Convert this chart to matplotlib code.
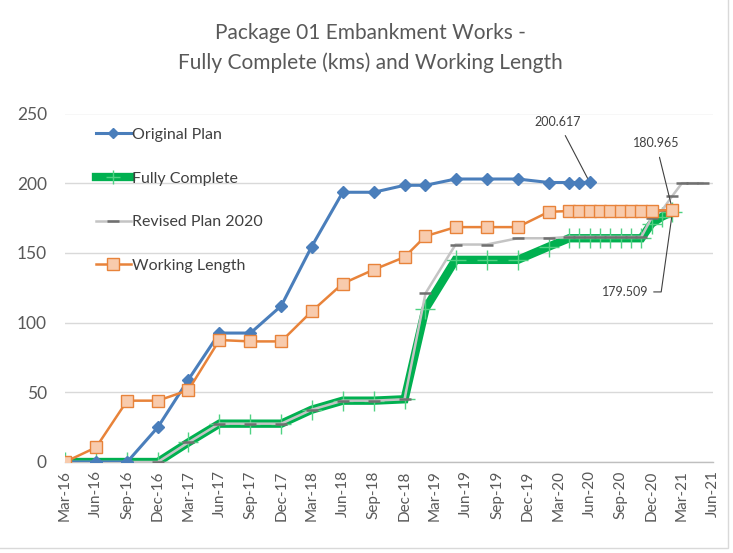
import matplotlib
matplotlib.use("Agg")
import matplotlib.pyplot as plt
import matplotlib.dates as mdates
from matplotlib.lines import Line2D
from matplotlib.patches import Rectangle
import pandas as pd

plt.rcParams['font.family'] = ['Lato', 'DejaVu Sans']

# ---------------- data ----------------
quarters_early = ['2016-03', '2016-06', '2016-09', '2016-12', '2017-03', '2017-06',
                  '2017-09', '2017-12', '2018-03', '2018-06', '2018-09', '2018-12']

plan_dates = quarters_early + ['2019-02', '2019-05', '2019-08', '2019-11', '2020-02',
                               '2020-04', '2020-05', '2020-06']
plan_vals = [0, 0, 0, 25, 59, 92.5, 92.5, 112, 154.5, 193.5, 193.5, 198.5,
             198.5, 203, 203, 203, 200.5, 200.5, 200.5, 200.617]

work_dates = quarters_early + ['2019-02', '2019-05', '2019-08', '2019-11', '2020-02',
                               '2020-04', '2020-05', '2020-06', '2020-07', '2020-08',
                               '2020-09', '2020-10', '2020-11', '2020-12', '2021-02']
work_vals = [0, 10.5, 44, 44, 51.5, 87.5, 86.5, 86.5, 108, 128, 138, 147,
             162, 168.5, 168.5, 168.5, 179.5,
             180, 180, 180, 180, 180, 180, 180, 180, 180, 180.965]

complete_dates = quarters_early + ['2019-02', '2019-05', '2019-08', '2019-11', '2020-02',
                                   '2020-04', '2020-05', '2020-06', '2020-07', '2020-08',
                                   '2020-09', '2020-10', '2020-11', '2020-12', '2021-01',
                                   '2021-02']
complete_vals = [0, 0, 0, 0, 14, 27.5, 27.5, 27.5, 37.5, 44, 44, 45,
                 110, 145, 145, 145, 154.5,
                 160.5, 160.5, 160.5, 160.5, 160.5, 160.5, 160.5, 160.5,
                 171, 176, 179.509]

revised_dates = quarters_early + ['2019-02', '2019-05', '2019-08', '2019-11', '2020-02',
                                  '2020-04', '2020-05', '2020-06', '2020-07', '2020-08',
                                  '2020-09', '2020-10', '2020-11', '2020-12', '2021-01',
                                  '2021-02', '2021-03', '2021-04', '2021-05']
revised_vals = [0, 0, 0, 0, 14, 27.5, 27.5, 27.5, 37.5, 44, 44, 45,
                121, 156, 156, 160.5, 160.5,
                161.5, 161.5, 161.5, 161.5, 161.5, 161.5, 161.5, 161.5,
                175, 180.5, 191, 200, 200, 200]

tick_dates = pd.date_range('2016-03-01', '2021-06-01', freq='3MS')

title_lines = ["Package 01 Embankment Works -", "Fully Complete (kms) and Working Length"]

# ---------------- figure ----------------
W, H = 733, 553
fig = plt.figure(figsize=(W / 100, H / 100), dpi=100)
ax = fig.add_axes([65 / W, 1 - 462 / H, (713 - 65) / W, (462 - 113.5) / H])

to_dt = lambda lst: pd.to_datetime(lst)

ax.plot(to_dt(complete_dates), complete_vals, color='#00B050', lw=6, zorder=2,
        marker='+', markersize=15, markeredgewidth=1.0, markeredgecolor='#4FD283',
        solid_joinstyle='miter', label='Fully Complete')
ax.plot(to_dt(revised_dates), revised_vals, color='#C4C4C4', lw=1.8, zorder=3,
        marker='_', markersize=8, markeredgewidth=1.8, markeredgecolor='#707070',
        label='Revised Plan 2020')
ax.plot(to_dt(plan_dates), plan_vals, color='#4A7EBB', lw=2.2, zorder=4,
        marker='D', markersize=6.5, markerfacecolor='#4A7EBB', markeredgecolor='#4A7EBB',
        label='Original Plan')
ax.plot(to_dt(work_dates), work_vals, color='#E8833A', lw=1.8, zorder=5,
        marker='s', markersize=9, markerfacecolor='#F8CBAD', markeredgecolor='#E8833A',
        markeredgewidth=1.0, label='Working Length')

ax.set_xlim(pd.Timestamp('2016-03-01'), pd.Timestamp('2021-06-01'))
ax.set_ylim(0, 250)
ax.set_yticks([0, 50, 100, 150, 200, 250])
ax.set_xticks(tick_dates)
ax.xaxis.set_major_formatter(mdates.DateFormatter('%b-%y'))
ax.tick_params(axis='x', rotation=90, labelsize=11, colors='#595959', length=0, pad=6)
ax.tick_params(axis='y', labelsize=12.5, colors='#595959', length=0, pad=13)
ax.grid(axis='y', color='#D9D9D9', lw=1.0)
ax.set_axisbelow(True)
for s in ['top', 'right', 'left']:
    ax.spines[s].set_visible(False)
ax.spines['bottom'].set_color('#BFBFBF')
ax.spines['bottom'].set_linewidth(1.0)

# legend
handles = [
    Line2D([], [], color='#4A7EBB', lw=2.2, marker='D', markersize=5.5),
    Line2D([], [], color='#00B050', lw=6, marker='+', markersize=10, markeredgecolor='#4FD283'),
    Line2D([], [], color='#C4C4C4', lw=1.8, marker='_', markersize=8,
           markeredgewidth=1.8, markeredgecolor='#707070'),
    Line2D([], [], color='#E8833A', lw=1.8, marker='s', markersize=8,
           markerfacecolor='#F8CBAD', markeredgecolor='#E8833A'),
]
labels = ['Original Plan', 'Fully Complete', 'Revised Plan 2020', 'Working Length']
leg = ax.legend(handles, labels, loc='upper left', bbox_to_anchor=(0.025, 1.0),
                frameon=False, fontsize=11.5, labelspacing=1.84, handlelength=2.2,
                handletextpad=0.1, labelcolor='#404040')

# data labels
ann_kw = dict(fontsize=9, color='#404040', ha='center', va='center',
              arrowprops=dict(arrowstyle='-', color='#404040', lw=0.8, shrinkA=4, shrinkB=0))
ax.annotate('200.617', xy=(pd.Timestamp(plan_dates[-1]), plan_vals[-1]),
            xytext=(0.761, 0.976), textcoords='axes fraction', **ann_kw)
ax.annotate('180.965', xy=(pd.Timestamp(work_dates[-1]), work_vals[-1]),
            xytext=(0.912, 0.915), textcoords='axes fraction', **ann_kw)
ax.annotate('179.509', xy=(pd.Timestamp(complete_dates[-1]), complete_vals[-1]),
            xytext=(0.864, 0.488), textcoords='axes fraction', fontsize=9, color='#404040',
            ha='center', va='center',
            arrowprops=dict(arrowstyle='-', color='#404040', lw=0.8, shrinkA=2, shrinkB=0,
                            connectionstyle='angle,angleA=0,angleB=82,rad=0'))

# title
fig.text(0.505, 1 - 33 / H, title_lines[0], ha='center', va='center', fontsize=15, color='#595959')
fig.text(0.505, 1 - 63 / H, title_lines[1], ha='center', va='center', fontsize=15, color='#595959')

# chart border (right/bottom visible)
fig.patches.append(Rectangle((-0.01, 0.009), 1.003, 1.01, transform=fig.transFigure,
                             fill=False, edgecolor='#D9D9D9', lw=1.0))

fig.savefig('out.png', dpi=100)
